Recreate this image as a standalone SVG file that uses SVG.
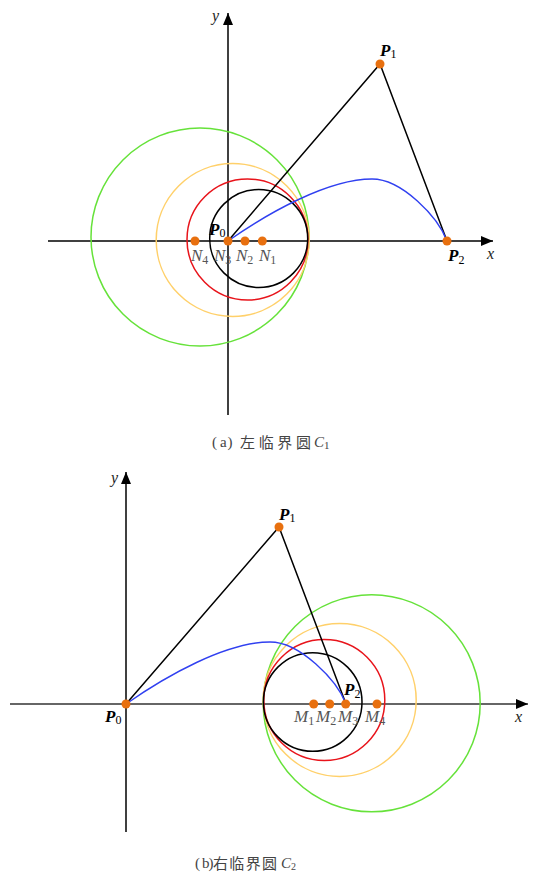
<svg xmlns="http://www.w3.org/2000/svg" width="535" height="873" viewBox="0 0 535 873">
<defs>
<marker id="arr" markerUnits="userSpaceOnUse" markerWidth="13" markerHeight="10" refX="12" refY="5" orient="auto">
<path d="M0,0 L12,5 L0,10 z" fill="#000"/>
</marker>
<style>
.ax{stroke:#000;stroke-width:1.5;fill:none}
.ax2{stroke:#333;stroke-width:1.5;fill:none}
.ln{stroke:#000;stroke-width:1.5;fill:none}
.bz{stroke:#3040F0;stroke-width:1.4;fill:none}
.cg{stroke:#66E23A;stroke-width:1.5;fill:none}
.cy{stroke:#FFD06A;stroke-width:1.5;fill:none}
.cr{stroke:#E8141B;stroke-width:1.5;fill:none}
.cb{stroke:#000;stroke-width:1.5;fill:none}
.dot{fill:#E8700F}
.pl{font-family:"Liberation Serif",serif;font-style:italic;font-weight:bold;font-size:17px;fill:#000}
.nl{font-family:"Liberation Serif",serif;font-style:italic;font-size:17px;fill:#555}
.axl{font-family:"Liberation Serif",serif;font-style:italic;font-size:16px;fill:#222}
.sub{font-style:normal;font-weight:normal;font-size:12px}
.cap{font-family:"Noto Sans CJK SC","Liberation Serif",serif;font-size:15px;fill:#444}
.capl{font-family:"Liberation Serif",serif;font-size:15px;fill:#444}
</style>
</defs>

<!-- Diagram (a) -->
<g id="axes-a">
<line class="ax" x1="48" y1="241" x2="493" y2="241" marker-end="url(#arr)"/>
<line class="ax" x1="228" y1="415" x2="228" y2="13" marker-end="url(#arr)"/>
<text class="axl" x="212" y="21">y</text>
<text class="axl" x="487" y="259">x</text>
</g>
<g id="circles-a">
<circle class="cg" cx="200" cy="237" r="109"/>
<circle class="cy" cx="232.7" cy="240" r="76.5"/>
<circle class="cr" cx="247.5" cy="239.5" r="60.5"/>
<circle class="cb" cx="258.7" cy="238.5" r="49"/>
</g>
<g id="connectors-a">
<polyline class="ln" points="228,241 380,64 447,241"/>
<path class="bz" d="M228,241 C268,213 328,179 372,179 C402,179 438,217 447,241"/>
</g>
<g id="node-a-P0"><circle class="dot" cx="228" cy="241" r="4.5"/><text class="pl" x="209" y="235">P<tspan class="sub" dy="2">0</tspan></text></g>
<g id="node-a-P1"><circle class="dot" cx="380" cy="64" r="4.5"/><text class="pl" x="380" y="56">P<tspan class="sub" dy="2">1</tspan></text></g>
<g id="node-a-P2"><circle class="dot" cx="447" cy="241" r="4.5"/><text class="pl" x="448" y="261">P<tspan class="sub" dy="3">2</tspan></text></g>
<g id="node-a-N1"><circle class="dot" cx="262.3" cy="241" r="4.5"/><text class="nl" x="259" y="261">N<tspan class="sub" dy="3">1</tspan></text></g>
<g id="node-a-N2"><circle class="dot" cx="245" cy="241" r="4.5"/><text class="nl" x="236" y="261">N<tspan class="sub" dy="3">2</tspan></text></g>
<g id="node-a-N3"><text class="nl" x="214" y="261">N<tspan class="sub" dy="3">3</tspan></text></g>
<g id="node-a-N4"><circle class="dot" cx="195" cy="241" r="4.5"/><text class="nl" x="191" y="261">N<tspan class="sub" dy="3">4</tspan></text></g>
<g id="caption-a">
<text class="capl" x="212 220 227.5" y="447">(a)</text>
<text class="cap" x="240" y="447.5" font-size="16" textLength="71" lengthAdjust="spacing">左临界圆</text>
<text class="capl" x="314" y="447" font-style="italic" font-size="16">C<tspan font-style="normal" font-size="11" dy="2">1</tspan></text>
</g>

<!-- Diagram (b) -->
<g id="axes-b">
<line class="ax2" x1="10" y1="704" x2="528" y2="704" marker-end="url(#arr)"/>
<line class="ax" x1="126" y1="832" x2="126" y2="472" marker-end="url(#arr)"/>
<text class="axl" x="111" y="483">y</text>
<text class="axl" x="515" y="722">x</text>
</g>
<g id="circles-b">
<circle class="cg" cx="371.7" cy="703.3" r="108.5"/>
<circle class="cy" cx="339.7" cy="700" r="76.5"/>
<circle class="cr" cx="324.3" cy="700" r="60.5"/>
<circle class="cb" cx="312.7" cy="702" r="49.3"/>
</g>
<g id="connectors-b">
<polyline class="ln" points="126,704 279,527 346,704"/>
<path class="bz" d="M126,704 C166,676 226,642 270,642 C300,642 337,680 346,704"/>
</g>
<g id="node-b-P0"><circle class="dot" cx="126" cy="704" r="4.5"/><text class="pl" x="105" y="722">P<tspan class="sub" dy="2">0</tspan></text></g>
<g id="node-b-P1"><circle class="dot" cx="279" cy="527" r="4.5"/><text class="pl" x="279" y="520">P<tspan class="sub" dy="2">1</tspan></text></g>
<g id="node-b-P2"><text class="pl" x="344" y="695">P<tspan class="sub" dy="3">2</tspan></text></g>
<g id="node-b-M1"><circle class="dot" cx="313.7" cy="704" r="4.5"/><text class="nl" x="294" y="722">M<tspan class="sub" dy="3">1</tspan></text></g>
<g id="node-b-M2"><circle class="dot" cx="329.7" cy="704" r="4.5"/><text class="nl" x="316" y="722">M<tspan class="sub" dy="3">2</tspan></text></g>
<g id="node-b-M3"><circle class="dot" cx="345.7" cy="704" r="4.5"/><text class="nl" x="338" y="722">M<tspan class="sub" dy="3">3</tspan></text></g>
<g id="node-b-M4"><circle class="dot" cx="377" cy="704" r="4.5"/><text class="nl" x="365" y="722">M<tspan class="sub" dy="3">4</tspan></text></g>
<g id="caption-b">
<text class="capl" x="195 202 208.5" y="868" font-size="14">(b)</text>
<text class="cap" x="213" y="868.5" font-size="14.5" textLength="64" lengthAdjust="spacing">右临界圆</text>
<text class="capl" x="281" y="868" font-style="italic" font-size="15">C<tspan font-style="normal" font-size="10" dy="2">2</tspan></text>
</g>
</svg>
